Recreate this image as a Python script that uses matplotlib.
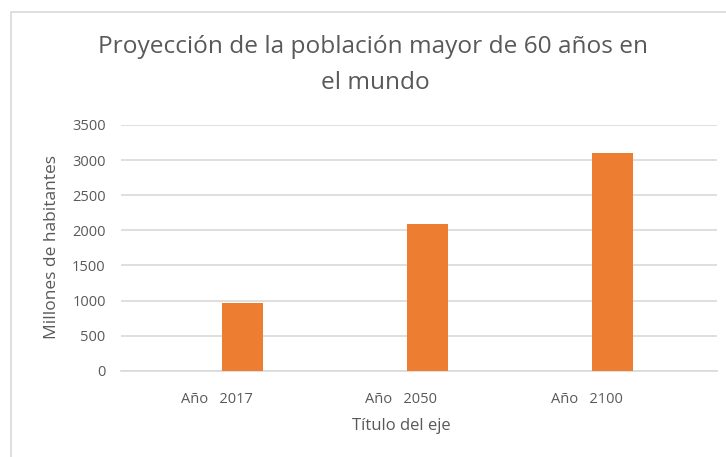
import matplotlib
matplotlib.use("Agg")
import matplotlib.pyplot as plt
from matplotlib.patches import Rectangle

categories = ["Año   2017", "Año   2050", "Año   2100"]
empty_series = [0, 0, 0]
values = [962, 2090, 3100]
yticks = [0, 500, 1000, 1500, 2000, 2500, 3000, 3500]

W, H = 726, 457
fig = plt.figure(figsize=(W / 100, H / 100), dpi=100)
plt.rcParams['font.family'] = ['Open Sans', 'DejaVu Sans']

# chart border (left/top visible)
fig.patches.append(Rectangle((11 / W, -0.1), 1.2, (H - 12) / H + 0.1, transform=fig.transFigure,
                             fill=False, edgecolor='#d9d9d9', linewidth=1.2))

left, right = 121 / W, 716.7 / W
bottom, top = 1 - 370.7 / H, 1 - 125 / H
ax = fig.add_axes([left, bottom, right - left, top - bottom])

x = list(range(len(categories)))
bw = 41 / 185
ax.bar(x, values, width=bw, align='edge', color='#ED7D31', zorder=3)

ax.set_ylim(0, 3500)
ax.set_xlim((121 - 222) / 185, (716.7 - 222) / 185)
ax.set_yticks(yticks)
ax.set_yticklabels([str(v) for v in yticks], fontsize=10.5, color='#595959')
ax.set_xticks([i - 0.03 for i in x])
ax.set_xticklabels(categories, fontsize=10.5, color='#595959')
ax.tick_params(axis='both', length=0)
ax.tick_params(axis='x', pad=15)
ax.tick_params(axis='y', pad=11)
ax.grid(axis='y', color='#d9d9d9', linewidth=1.2, zorder=0)
for s in ['top', 'right', 'left']:
    ax.spines[s].set_visible(False)
ax.spines['bottom'].set_color('#d9d9d9')
ax.spines['bottom'].set_linewidth(1.2)

fig.text(52 / W, 1 - 247 / H, 'Millones de habitantes', rotation=90, ha='center', va='center',
         fontsize=12.5, color='#595959')
fig.text(401 / W, 1 - 426 / H, 'Título del eje', ha='center', va='center',
         fontsize=12, color='#595959')
fig.text(373 / W, 1 - 47 / H, 'Proyección de la población mayor de 60 años en',
         ha='center', va='center', fontsize=17.6, color='#595959')
fig.text(375 / W, 1 - 83 / H, 'el mundo', ha='center', va='center', fontsize=17.6, color='#595959')

fig.savefig('out.png', dpi=100, facecolor='white')
